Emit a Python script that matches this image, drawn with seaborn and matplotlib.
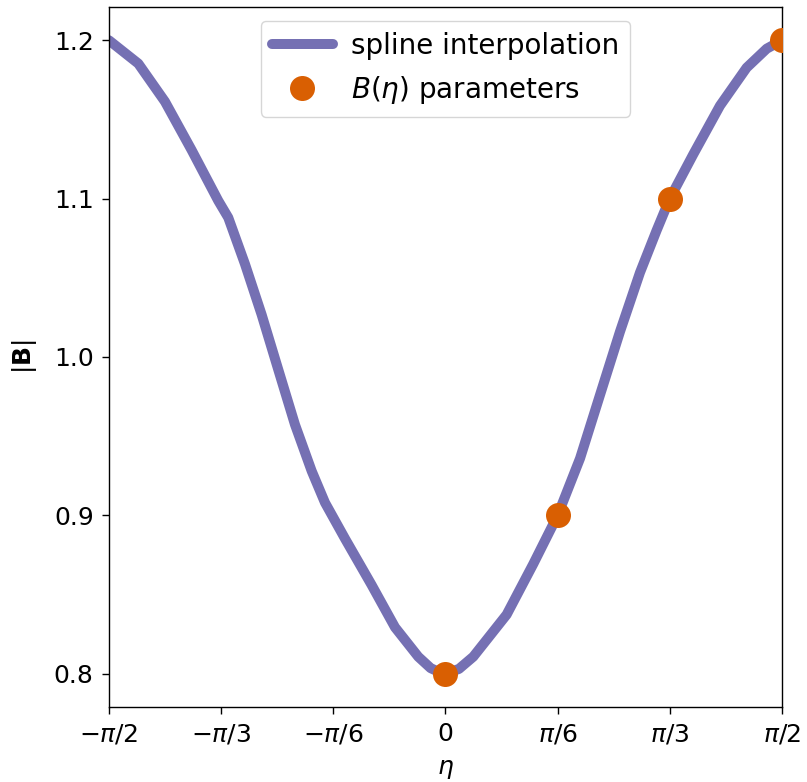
import numpy as np
import pandas as pd
import matplotlib
matplotlib.use("Agg")
import matplotlib.pyplot as plt
import seaborn as sns

# B(eta) parameters (eta in units of pi)
eta_param = [0.0, 1/6, 1/3, 1/2]
B_param = [0.8, 0.9, 1.1, 1.2]

# spline interpolation curve (eta in units of pi)
eta_curve = [-0.5, -0.4564, -0.4168, -0.3772, -0.3376, -0.3227, -0.2979,
             -0.2731, -0.2484, -0.2236, -0.1988, -0.179, -0.1493, -0.1097,
             -0.075, -0.0404, -0.022, -0.0107, 0.0, 0.02, 0.0413, 0.0909,
             0.1305, 0.1667, 0.2, 0.2296, 0.2593, 0.289, 0.3138, 0.3333,
             0.3682, 0.4079, 0.4475, 0.4773, 0.5]
B_curve = [1.2, 1.1853, 1.1613, 1.1307, 1.0987, 1.088, 1.0587,
           1.0267, 0.992, 0.9573, 0.928, 0.908, 0.8853, 0.856,
           0.8293, 0.8107, 0.8035, 0.8013, 0.8, 0.803, 0.8107, 0.8373,
           0.8693, 0.9, 0.936, 0.976, 1.016, 1.0533, 1.08, 1.1,
           1.128, 1.1587, 1.1827, 1.1947, 1.2]

tick_values = [-1/2, -1/3, -1/6, 0, 1/6, 1/3, 1/2]
tick_labels = [r"$-\pi/2$", r"$-\pi/3$", r"$-\pi/6$", "0", r"$\pi/6$", r"$\pi/3$", r"$\pi/2$"]
y_ticks = [0.8, 0.9, 1.0, 1.1, 1.2]

df_line = pd.DataFrame({"eta": np.array(eta_curve) * np.pi, "B": B_curve})
df_pts = pd.DataFrame({"eta": np.array(eta_param) * np.pi, "B": B_param})

sns.set_style("ticks")
plt.rcParams["font.family"] = ["DejaVu Sans"]
fig = plt.figure(figsize=(8.07, 7.82), dpi=100)
ax = fig.add_axes([0.135, 0.096, 0.834, 0.895])

sns.lineplot(data=df_line, x="eta", y="B", ax=ax, color="#7570b3", lw=7.2,
             label="spline interpolation", sort=False, solid_joinstyle="round")
sns.lineplot(data=df_pts, x="eta", y="B", ax=ax, color="#d95f02", marker="o",
             ms=18, mew=0, linestyle="", label=r"$B(\eta)$ parameters",
             sort=False, zorder=5)

ax.set_xlim(-np.pi / 2, np.pi / 2)
ax.set_ylim(0.779, 1.221)
ax.set_xticks(np.array(tick_values) * np.pi)
ax.set_xticklabels(tick_labels)
ax.set_yticks(y_ticks)
ax.tick_params(labelsize=18, length=5, width=1, pad=6, color="black", labelcolor="black")
for s in ax.spines.values():
    s.set_color("black")
    s.set_linewidth(1)
ax.set_xlabel(r"$\eta$", fontsize=18, color="black", labelpad=8)
ax.set_ylabel(r"$|\mathbf{B}|$", fontsize=18, color="black", labelpad=11)
leg = ax.legend(loc="upper center", fontsize=20, frameon=True, handlelength=2.2,
                handletextpad=0.65, borderaxespad=0.5)
for t in leg.get_texts():
    t.set_color("black")

fig.savefig("out.png", dpi=100)
